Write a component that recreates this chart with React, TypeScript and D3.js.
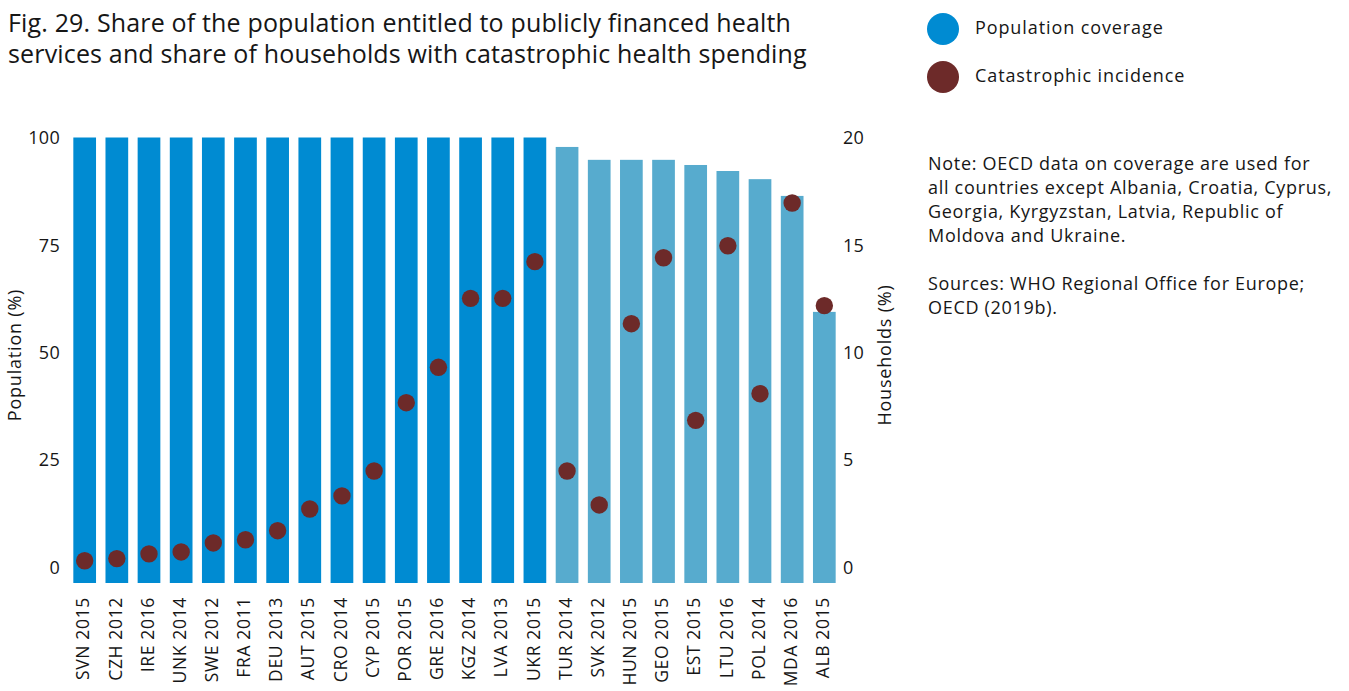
import React from "react";
import * as d3 from "d3";

const countries = ["SVN 2015","CZH 2012","IRE 2016","UNK 2014","SWE 2012","FRA 2011","DEU 2013","AUT 2015","CRO 2014","CYP 2015","POR 2015","GRE 2016","KGZ 2014","LVA 2013","UKR 2015","TUR 2014","SVK 2012","HUN 2015","GEO 2015","EST 2015","LTU 2016","POL 2014","MDA 2016","ALB 2015"];
const coverage = [100,100,100,100,100,100,100,100,100,100,100,100,100,100,100,97.8,94.8,94.8,94.8,93.6,92.2,90.3,86.4,59.4];
const catastrophic = [0.29,0.39,0.61,0.70,1.12,1.27,1.69,2.70,3.31,4.47,7.65,9.30,12.51,12.51,14.22,4.47,2.89,11.33,14.40,6.83,14.96,8.07,16.95,12.17];
const fullCoverage = [true,true,true,true,true,true,true,true,true,true,true,true,true,true,true,false,false,false,false,false,false,false,false,false];
const leftTicks = [0,25,50,75,100];
const rightTicks = [0,5,10,15,20];
const titleLines = ["Fig. 29. Share of the population entitled to publicly financed health","services and share of households with catastrophic health spending"];
const noteLines = ["Note: OECD data on coverage are used for","all countries except Albania, Croatia, Cyprus,","Georgia, Kyrgyzstan, Latvia, Republic of","Moldova and Ukraine."];
const sourceLines = ["Sources: WHO Regional Office for Europe;","OECD (2019b)."];

const DARK = "#008bd2";
const LIGHT = "#57abce";
const DOT = "#6d2a29";
const INK = "#161616";
const FONT = "'Open Sans', 'Noto Sans', sans-serif";

export default function App() {
  const W = 1349, H = 691;
  const x = d3.scaleBand<string>().domain(countries).range([68.6, 840.4]).paddingInner(0.294).paddingOuter(0.147);
  const yL = d3.scaleLinear().domain([0, 100]).range([567, 137.5]);
  const yR = d3.scaleLinear().domain([0, 20]).range([567, 137.5]);
  const barBottom = 583;
  return (
    <svg width={W} height={H} style={{ position: "absolute", left: 0, top: 0, fontFamily: FONT }}>
      <rect width={W} height={H} fill="#fff" />
      {titleLines.map((t, i) => (
        <text key={i} x={8} y={32 + i * 31} fontSize={25} letterSpacing={0.16} fill={INK}>{t}</text>
      ))}
      {countries.map((c, i) => (
        <rect key={c} x={x(c)} y={yL(coverage[i])} width={x.bandwidth()} height={barBottom - yL(coverage[i])} fill={fullCoverage[i] ? DARK : LIGHT} />
      ))}
      {countries.map((c, i) => (
        <circle key={c} cx={(x(c) as number) + x.bandwidth() / 2} cy={yR(catastrophic[i])} r={8.7} fill={DOT} />
      ))}
      {leftTicks.map(t => (
        <text key={t} x={60} y={yL(t) + 2} textAnchor="end" dominantBaseline="middle" fontSize={18} letterSpacing={0.3} fill={INK}>{t}</text>
      ))}
      {rightTicks.map(t => (
        <text key={t} x={843} y={yR(t) + 2} textAnchor="start" dominantBaseline="middle" fontSize={18} letterSpacing={0.3} fill={INK}>{t}</text>
      ))}
      <text transform="translate(16,355) rotate(-90)" textAnchor="middle" dominantBaseline="middle" fontSize={18} letterSpacing={0.8} fill={INK}>Population (%)</text>
      <text transform="translate(886,355) rotate(-90)" textAnchor="middle" dominantBaseline="middle" fontSize={18} letterSpacing={0.8} fill={INK}>Households (%)</text>
      {countries.map(c => (
        <text key={c} transform={`translate(${(x(c) as number) + x.bandwidth() / 2},597) rotate(-90)`} textAnchor="end" dominantBaseline="middle" fontSize={17.5} letterSpacing={0.65} fill={INK}>{c}</text>
      ))}
      <circle cx={943} cy={29} r={16} fill={DARK} />
      <text x={975} y={29} dominantBaseline="middle" fontSize={18} letterSpacing={0.9} fill={INK}>Population coverage</text>
      <circle cx={943} cy={77} r={16} fill={DOT} />
      <text x={975} y={77} dominantBaseline="middle" fontSize={18} letterSpacing={0.9} fill={INK}>Catastrophic incidence</text>
      {noteLines.map((t, i) => (
        <text key={i} x={928} y={170 + i * 24} fontSize={18} letterSpacing={0.7} fill={INK}>{t}</text>
      ))}
      {sourceLines.map((t, i) => (
        <text key={i} x={928} y={290 + i * 24} fontSize={18} letterSpacing={0.7} fill={INK}>{t}</text>
      ))}
    </svg>
  );
}
